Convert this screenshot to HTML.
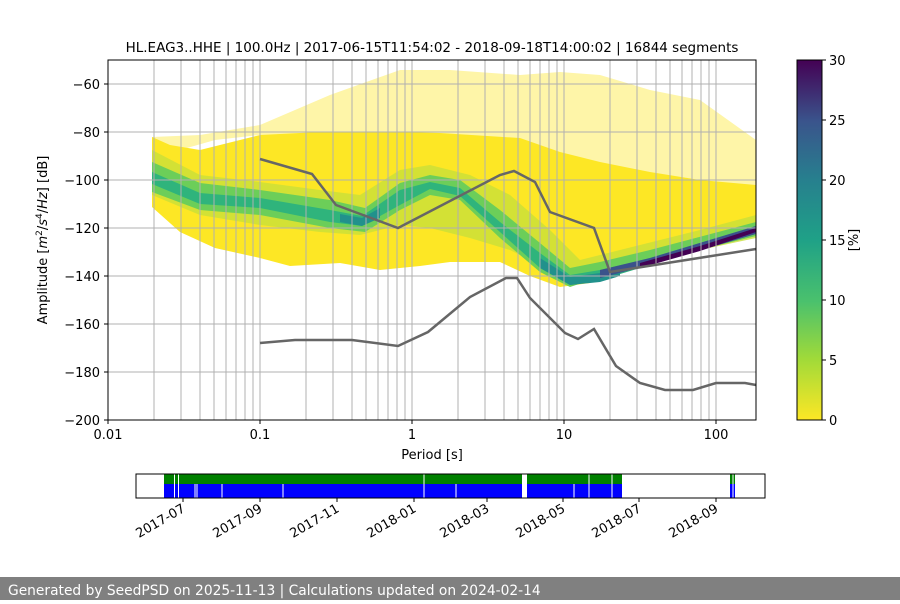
<!DOCTYPE html>
<html><head><meta charset="utf-8"><style>
body{margin:0;width:900px;height:600px;background:#fff;overflow:hidden;font-family:"DejaVu Sans","Liberation Sans",sans-serif}
svg text{font-family:"DejaVu Sans","Liberation Sans",sans-serif;fill:#000}
</style></head><body>
<svg width="900" height="600" xmlns="http://www.w3.org/2000/svg">
<defs>
<linearGradient id="vir" x1="0" y1="1" x2="0" y2="0">
<stop offset="0" stop-color="#fde725"/><stop offset="0.17" stop-color="#a0da39"/><stop offset="0.33" stop-color="#4ac16d"/><stop offset="0.5" stop-color="#1fa187"/><stop offset="0.67" stop-color="#277f8e"/><stop offset="0.83" stop-color="#3a548c"/><stop offset="1" stop-color="#440154"/>
</linearGradient>
<clipPath id="ax"><rect x="108" y="60" width="648" height="360"/></clipPath>
</defs>
<text x="432" y="52" font-size="13.5" text-anchor="middle">HL.EAG3..HHE | 100.0Hz | 2017-06-15T11:54:02 - 2018-09-18T14:00:02 | 16844 segments</text>
<g clip-path="url(#ax)">
<!-- scattered upper region -->
<polygon fill="#fde725" opacity="0.4" points="152,137 200,135 260,125 330,95 400,70 450,70 520,75 560,72 600,75 650,90 700,100 756,140 756,190 700,180 600,165 500,140 440,135 380,132 300,135 260,135 215,140 180,150 152,160"/>
<!-- solid yellow envelope -->
<polygon fill="#fde725" points="152,137 170,145 200,150 260,135 320,132 400,132 440,133 520,138 560,152 600,162 650,172 700,180 756,185 756,236 700,250 650,262 620,270 590,283 560,287 530,276 500,262 450,262 420,266 380,270 340,263 290,266 260,258 215,248 180,232 152,207"/>
<!-- light green halo -->
<polygon fill="#c8e03a" opacity="0.8" points="152,150 200,175 260,182 320,190 360,195 400,170 430,165 470,175 510,195 550,230 580,260 620,250 700,230 756,215 756,238 700,250 620,268 580,282 550,270 510,250 470,238 430,228 400,225 360,235 320,232 260,225 200,215 152,195"/>
<!-- green band -->
<polygon fill="#6cce59" points="152,162 200,183 260,190 330,200 365,208 400,183 430,175 460,180 500,210 540,243 570,268 600,262 650,250 756,222 756,236 650,262 600,277 570,287 540,272 500,238 460,200 430,195 400,210 365,232 330,228 260,215 200,210 152,192"/>
<!-- teal core -->
<polygon fill="#2fb47c" points="152,172 200,193 260,198 330,210 362,216 400,190 430,182 460,188 500,222 540,253 570,275 600,270 650,258 756,226 756,233 650,265 600,280 570,285 540,268 500,232 460,196 430,189 400,205 362,226 330,222 260,208 200,204 152,184"/>
<polygon fill="#21918c" points="340,214 362,218 380,208 380,218 362,226 340,222"/>
<polygon fill="#21918c" points="540,258 570,277 600,273 620,268 620,276 600,282 570,285 540,268"/>
<!-- dark line at long periods -->
<polygon fill="#3b528b" points="600,270 650,258 756,226 756,234 650,265 600,278"/>
<polygon fill="#440154" points="640,263 700,246 756,228 756,232 700,251 640,268"/>
</g>
<!-- grid -->
<g stroke="#b0b0b0" stroke-width="1">
<line x1="108" y1="84" x2="756" y2="84"/><line x1="108" y1="132" x2="756" y2="132"/><line x1="108" y1="180" x2="756" y2="180"/><line x1="108" y1="228" x2="756" y2="228"/><line x1="108" y1="276" x2="756" y2="276"/><line x1="108" y1="324" x2="756" y2="324"/><line x1="108" y1="372" x2="756" y2="372"/>
<line x1="154" y1="60" x2="154" y2="420"/><line x1="181" y1="60" x2="181" y2="420"/><line x1="200" y1="60" x2="200" y2="420"/><line x1="214" y1="60" x2="214" y2="420"/><line x1="226" y1="60" x2="226" y2="420"/><line x1="236" y1="60" x2="236" y2="420"/><line x1="245" y1="60" x2="245" y2="420"/><line x1="253" y1="60" x2="253" y2="420"/><line x1="260" y1="60" x2="260" y2="420"/>
<line x1="306" y1="60" x2="306" y2="420"/><line x1="333" y1="60" x2="333" y2="420"/><line x1="352" y1="60" x2="352" y2="420"/><line x1="366" y1="60" x2="366" y2="420"/><line x1="378" y1="60" x2="378" y2="420"/><line x1="388" y1="60" x2="388" y2="420"/><line x1="397" y1="60" x2="397" y2="420"/><line x1="405" y1="60" x2="405" y2="420"/><line x1="412" y1="60" x2="412" y2="420"/>
<line x1="458" y1="60" x2="458" y2="420"/><line x1="485" y1="60" x2="485" y2="420"/><line x1="504" y1="60" x2="504" y2="420"/><line x1="518" y1="60" x2="518" y2="420"/><line x1="530" y1="60" x2="530" y2="420"/><line x1="540" y1="60" x2="540" y2="420"/><line x1="549" y1="60" x2="549" y2="420"/><line x1="557" y1="60" x2="557" y2="420"/><line x1="564" y1="60" x2="564" y2="420"/>
<line x1="610" y1="60" x2="610" y2="420"/><line x1="637" y1="60" x2="637" y2="420"/><line x1="656" y1="60" x2="656" y2="420"/><line x1="670" y1="60" x2="670" y2="420"/><line x1="682" y1="60" x2="682" y2="420"/><line x1="692" y1="60" x2="692" y2="420"/><line x1="701" y1="60" x2="701" y2="420"/><line x1="709" y1="60" x2="709" y2="420"/><line x1="716" y1="60" x2="716" y2="420"/>
</g>
<!-- noise models -->
<polyline fill="none" stroke="#666" stroke-width="2.5" points="260,159 312,174 336,205 398,228 500,175 514,171 535,182 550,212 594,228 610,272 756,249"/>
<polyline fill="none" stroke="#666" stroke-width="2.5" points="260,343 295,340 352,340 398,346 428,332 470,297 506,278 517,278 530,298 565,333 578,339 594,329 616,366 640,383 665,390 693,390 716,383 745,383 756,385"/>
<rect x="108" y="60" width="648" height="360" fill="none" stroke="#000" stroke-width="1"/>
<g stroke="#000"><line x1="104" y1="84" x2="108" y2="84"/><line x1="104" y1="132" x2="108" y2="132"/><line x1="104" y1="180" x2="108" y2="180"/><line x1="104" y1="228" x2="108" y2="228"/><line x1="104" y1="276" x2="108" y2="276"/><line x1="104" y1="324" x2="108" y2="324"/><line x1="104" y1="372" x2="108" y2="372"/><line x1="104" y1="420" x2="108" y2="420"/>
<line x1="108" y1="420" x2="108" y2="424"/><line x1="260" y1="420" x2="260" y2="424"/><line x1="412" y1="420" x2="412" y2="424"/><line x1="564" y1="420" x2="564" y2="424"/><line x1="716" y1="420" x2="716" y2="424"/></g>
<g font-size="13" text-anchor="end"><text x="100" y="89">−60</text><text x="100" y="137">−80</text><text x="100" y="185">−100</text><text x="100" y="233">−120</text><text x="100" y="281">−140</text><text x="100" y="329">−160</text><text x="100" y="377">−180</text><text x="100" y="425">−200</text></g>
<g font-size="13" text-anchor="middle"><text x="108" y="439">0.01</text><text x="260" y="439">0.1</text><text x="412" y="439">1</text><text x="564" y="439">10</text><text x="716" y="439">100</text></g>
<text x="432" y="459" font-size="13" text-anchor="middle">Period [s]</text>
<text transform="translate(47,240) rotate(-90)" font-size="13" text-anchor="middle">Amplitude [<tspan font-style="italic">m</tspan><tspan font-size="9" dy="-5">2</tspan><tspan dy="5">/</tspan><tspan font-style="italic">s</tspan><tspan font-size="9" dy="-5">4</tspan><tspan dy="5">/</tspan><tspan font-style="italic">Hz</tspan>] [dB]</text>
<rect x="797" y="60" width="25" height="360" fill="url(#vir)" stroke="#000" stroke-width="1"/>
<g stroke="#000"><line x1="822" y1="60" x2="826" y2="60"/><line x1="822" y1="120" x2="826" y2="120"/><line x1="822" y1="180" x2="826" y2="180"/><line x1="822" y1="240" x2="826" y2="240"/><line x1="822" y1="300" x2="826" y2="300"/><line x1="822" y1="360" x2="826" y2="360"/><line x1="822" y1="420" x2="826" y2="420"/></g>
<g font-size="13"><text x="829" y="65">30</text><text x="829" y="125">25</text><text x="829" y="185">20</text><text x="829" y="245">15</text><text x="829" y="305">10</text><text x="829" y="365">5</text><text x="829" y="425">0</text></g>
<text transform="translate(858,240) rotate(-90)" font-size="13" text-anchor="middle">[%]</text>
<rect x="164" y="474" width="458" height="10" fill="#008000"/>
<rect x="164" y="484" width="458" height="14" fill="#0000ff"/>
<rect x="730" y="474" width="5" height="10" fill="#008000"/>
<rect x="730" y="484" width="5" height="14" fill="#0000ff"/>
<g stroke="#fff" stroke-width="1"><line x1="174.5" y1="474" x2="174.5" y2="498"/><line x1="178.5" y1="474" x2="178.5" y2="498"/><line x1="195" y1="484" x2="195" y2="498"/><line x1="197" y1="484" x2="197" y2="498"/><line x1="222" y1="484" x2="222" y2="498"/><line x1="283" y1="484" x2="283" y2="498"/><line x1="424" y1="474" x2="424" y2="498"/><line x1="456" y1="484" x2="456" y2="498"/><line x1="574" y1="484" x2="574" y2="498"/><line x1="589" y1="474" x2="589" y2="498"/><line x1="612" y1="474" x2="612" y2="498"/><line x1="733" y1="474" x2="733" y2="498"/></g>
<rect x="522" y="474" width="5" height="24" fill="#fff"/>
<rect x="136" y="474" width="629" height="24" fill="none" stroke="#000"/>
<g stroke="#000"><line x1="183" y1="498" x2="183" y2="502"/><line x1="260" y1="498" x2="260" y2="502"/><line x1="337" y1="498" x2="337" y2="502"/><line x1="414" y1="498" x2="414" y2="502"/><line x1="487" y1="498" x2="487" y2="502"/><line x1="563" y1="498" x2="563" y2="502"/><line x1="639" y1="498" x2="639" y2="502"/><line x1="716" y1="498" x2="716" y2="502"/></g>
<g font-size="13" text-anchor="end">
<text transform="translate(186,511) rotate(-30)">2017-07</text>
<text transform="translate(263,511) rotate(-30)">2017-09</text>
<text transform="translate(340,511) rotate(-30)">2017-11</text>
<text transform="translate(417,511) rotate(-30)">2018-01</text>
<text transform="translate(490,511) rotate(-30)">2018-03</text>
<text transform="translate(566,511) rotate(-30)">2018-05</text>
<text transform="translate(642,511) rotate(-30)">2018-07</text>
<text transform="translate(719,511) rotate(-30)">2018-09</text>
</g>
<rect x="0" y="577" width="900" height="23" fill="#808080"/>
<text x="8" y="595" font-size="13.8" style="fill:#fff">Generated by SeedPSD on 2025-11-13 | Calculations updated on 2024-02-14</text>
</svg>
</body></html>
